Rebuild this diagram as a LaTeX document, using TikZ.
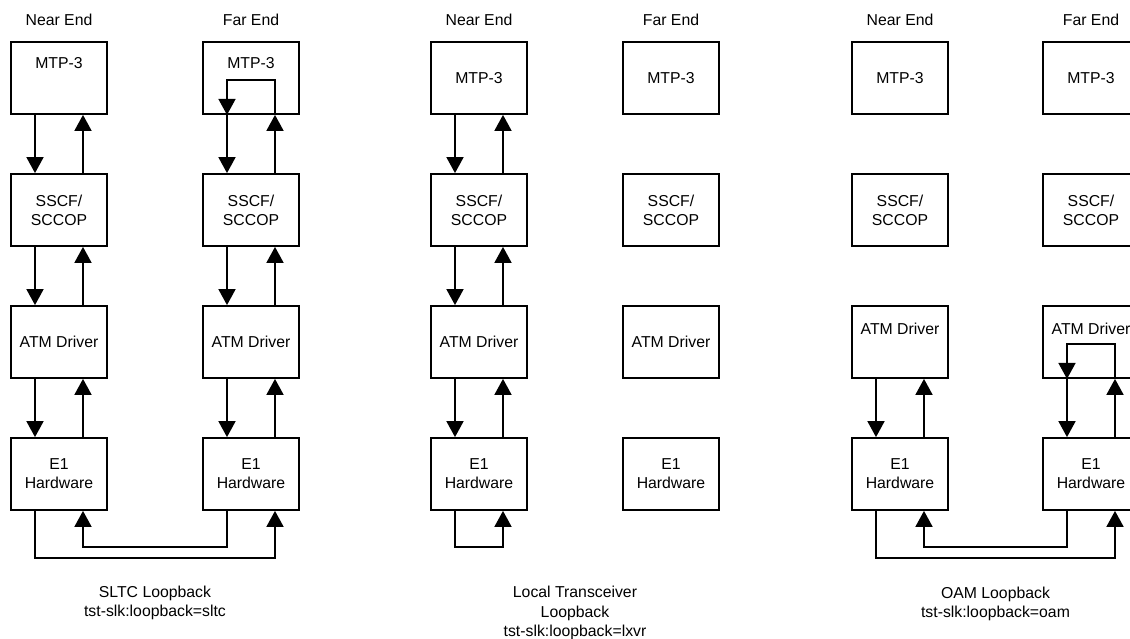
\documentclass[tikz,border=0pt]{standalone}
\usepackage{fontspec}
\setmainfont{Liberation Sans}
\usetikzlibrary{arrows.meta}
\newcommand\myfs{\fontsize{15.8}{19}\selectfont}
\begin{document}
\begin{tikzpicture}[x=1pt,y=-1pt,
  box/.style={draw,line width=1.8pt,minimum width=96pt,minimum height=72pt,inner sep=0pt,font=\myfs,align=center},
  lbl/.style={font=\myfs,align=center,inner sep=0pt},
  captext/.style={font=\fontsize{15.8}{19.5}\selectfont,align=center,inner sep=0pt},
  arr/.style={line width=1.8pt,-{Triangle[width=17pt,length=16pt]}},
  ln/.style={line width=1.8pt},
]
\useasboundingbox (0,0) rectangle (1130,639);
\clip (0,0) rectangle (1130,639);

% headers
\node[lbl] (hA) at (59,20) {Near End};
\node[lbl] (hB) at (251,20) {Far End};
\node[lbl] (hC) at (479,20) {Near End};
\node[lbl] (hD) at (671,20) {Far End};
\node[lbl] (hE) at (900,20) {Near End};
\node[lbl] (hF) at (1091,20) {Far End};

% left group
\node[box] (Am) at (59,78) {};
\node[lbl] (Amt) at (59,63) {MTP-3};
\node[box] (As) at (59,210) {SSCF/\\SCCOP};
\node[box] (Aa) at (59,342) {ATM Driver};
\node[box] (Ah) at (59,474) {E1\\Hardware};
\node[box] (Bm) at (251,78) {};
\node[lbl] (Bmt) at (251,63) {MTP-3};
\node[box] (Bs) at (251,210) {SSCF/\\SCCOP};
\node[box] (Ba) at (251,342) {ATM Driver};
\node[box] (Bh) at (251,474) {E1\\Hardware};

% middle group
\node[box] (Cm) at (479,78) {MTP-3};
\node[box] (Cs) at (479,210) {SSCF/\\SCCOP};
\node[box] (Ca) at (479,342) {ATM Driver};
\node[box] (Ch) at (479,474) {E1\\Hardware};
\node[box] (Dm) at (671,78) {MTP-3};
\node[box] (Ds) at (671,210) {SSCF/\\SCCOP};
\node[box] (Da) at (671,342) {ATM Driver};
\node[box] (Dh) at (671,474) {E1\\Hardware};

% right group
\node[box] (Em) at (900,78) {MTP-3};
\node[box] (Es) at (900,210) {SSCF/\\SCCOP};
\node[box] (Ea) at (900,342) {};
\node[lbl] (Eat) at (900,329) {ATM Driver};
\node[box] (Eh) at (900,474) {E1\\Hardware};
\node[box] (Fm) at (1091,78) {MTP-3};
\node[box] (Fs) at (1091,210) {SSCF/\\SCCOP};
\node[box] (Fa) at (1091,342) {};
\node[lbl] (Fat) at (1091,329) {ATM Driver};
\node[box] (Fh) at (1091,474) {E1\\Hardware};

% left group arrows
\foreach \c in {A,B}{
  \draw[arr] ([xshift=-24pt]\c m.south) -- ([xshift=-24pt]\c s.north);
  \draw[arr] ([xshift=24pt]\c s.north) -- ([xshift=24pt]\c m.south);
  \draw[arr] ([xshift=-24pt]\c s.south) -- ([xshift=-24pt]\c a.north);
  \draw[arr] ([xshift=24pt]\c a.north) -- ([xshift=24pt]\c s.south);
  \draw[arr] ([xshift=-24pt]\c a.south) -- ([xshift=-24pt]\c h.north);
  \draw[arr] ([xshift=24pt]\c h.north) -- ([xshift=24pt]\c a.south);
}
\draw[arr] ([xshift=24pt]Bm.south) -- ++(0,-35) -| ([xshift=-24pt]Bm.south);
\draw[arr] ([xshift=-24pt]Ah.south) -- ++(0,47) -| ([xshift=24pt]Bh.south);
\draw[arr] ([xshift=-24pt]Bh.south) -- ++(0,36) -| ([xshift=24pt]Ah.south);

% middle group arrows
\draw[arr] ([xshift=-24pt]Cm.south) -- ([xshift=-24pt]Cs.north);
\draw[arr] ([xshift=24pt]Cs.north) -- ([xshift=24pt]Cm.south);
\draw[arr] ([xshift=-24pt]Cs.south) -- ([xshift=-24pt]Ca.north);
\draw[arr] ([xshift=24pt]Ca.north) -- ([xshift=24pt]Cs.south);
\draw[arr] ([xshift=-24pt]Ca.south) -- ([xshift=-24pt]Ch.north);
\draw[arr] ([xshift=24pt]Ch.north) -- ([xshift=24pt]Ca.south);
\draw[arr] ([xshift=-24pt]Ch.south) -- ++(0,36) -| ([xshift=24pt]Ch.south);

% right group arrows
\foreach \c in {E,F}{
  \draw[arr] ([xshift=-24pt]\c a.south) -- ([xshift=-24pt]\c h.north);
  \draw[arr] ([xshift=24pt]\c h.north) -- ([xshift=24pt]\c a.south);
}
\draw[arr] ([xshift=24pt]Fa.south) -- ++(0,-35) -| ([xshift=-24pt]Fa.south);
\draw[arr] ([xshift=-24pt]Eh.south) -- ++(0,47) -| ([xshift=24pt]Fh.south);
\draw[arr] ([xshift=-24pt]Fh.south) -- ++(0,36) -| ([xshift=24pt]Eh.south);

% captions
\node[captext] (capA) at (155,603) {SLTC Loopback\\tst-slk:loopback=sltc};
\node[captext] (capC) at (575,613) {Local Transceiver\\Loopback\\tst-slk:loopback=lxvr};
\node[captext] (capE) at (995.5,604) {OAM Loopback\\tst-slk:loopback=oam};
\end{tikzpicture}
\end{document}
